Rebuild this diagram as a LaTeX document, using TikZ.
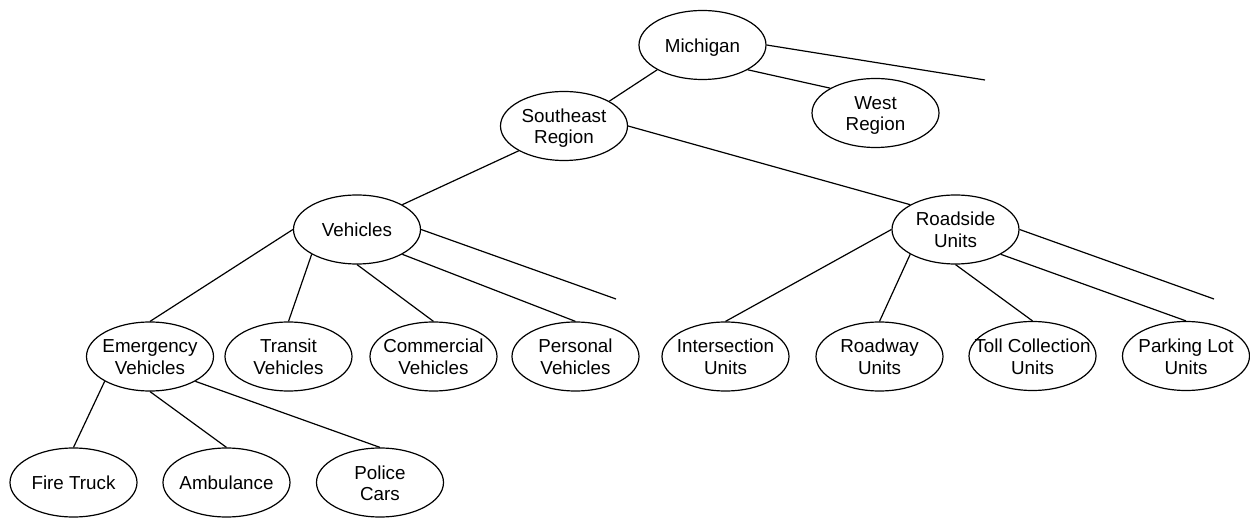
\documentclass[tikz,border=0pt]{standalone}
\usepackage{fontspec}
\setmainfont{Liberation Sans}
\usetikzlibrary{shapes.geometric}
\newcommand{\lblone}[1]{\raisebox{-7.2pt}[0pt][0pt]{\makebox[0pt][c]{#1}}}
\newcommand{\lbltwo}[2]{\raisebox{-18pt}[0pt][0pt]{\makebox[0pt][c]{\begin{tabular}[b]{@{}c@{}}#1\\#2\end{tabular}}}}
\tikzset{
  ell/.style={ellipse, draw=black, line width=1.2pt, inner sep=0pt,
    minimum width=127pt, minimum height=69pt,
    font=\fontsize{18.8}{21.5}\selectfont},
  link/.style={draw=black, line width=1.2pt}
}
\begin{document}
\begin{tikzpicture}[x=1pt,y=-1pt]
\useasboundingbox (0,0) rectangle (1250,518);
\node[ell] (michigan) at (702.5,45) {\lblone{Michigan}};
\node[ell] (west) at (875.5,113) {\lbltwo{West}{Region}};
\node[ell] (southeast) at (564,126) {\lbltwo{Southeast}{Region}};
\node[ell] (vehicles) at (357,229.5) {\lblone{Vehicles}};
\node[ell] (roadside) at (955.5,229.5) {\lbltwo{Roadside}{Units}};
\node[ell] (emergency) at (150,356.5) {\lbltwo{Emergency}{Vehicles}};
\node[ell] (transit) at (288.5,356.5) {\lbltwo{Transit}{Vehicles}};
\node[ell] (commercial) at (433.5,356.5) {\lbltwo{Commercial}{Vehicles}};
\node[ell] (personal) at (575.5,356.5) {\lbltwo{Personal}{Vehicles}};
\node[ell] (intersection) at (725.5,356.5) {\lbltwo{Intersection}{Units}};
\node[ell] (roadway) at (879.5,356.5) {\lbltwo{Roadway}{Units}};
\node[ell] (toll) at (1032.5,356) {\lbltwo{Toll Collection}{Units}};
\node[ell] (parking) at (1186,356) {\lbltwo{Parking Lot}{Units}};
\node[ell] (firetruck) at (73.5,482.5) {\lblone{Fire Truck}};
\node[ell] (ambulance) at (226.5,482.5) {\lblone{Ambulance}};
\node[ell] (police) at (380,482.5) {\lbltwo{Police}{Cars}};
\coordinate (free1) at (985,80);
\coordinate (free2) at (616,299);
\coordinate (free3) at (1214,299);
\draw[link] (michigan.south west) -- (southeast.north east);
\draw[link] (michigan.south east) -- (west.north west);
\draw[link] (michigan.east) -- (free1);
\draw[link] (southeast.south west) -- (vehicles.north east);
\draw[link] (southeast.east) -- (roadside.north west);
\draw[link] (vehicles.west) -- (emergency.north);
\draw[link] (vehicles.south west) -- (transit.north);
\draw[link] (vehicles.south) -- (commercial.north);
\draw[link] (vehicles.south east) -- (personal.north);
\draw[link] (vehicles.east) -- (free2);
\draw[link] (roadside.west) -- (intersection.north);
\draw[link] (roadside.south west) -- (roadway.north);
\draw[link] (roadside.south) -- (toll.north);
\draw[link] (roadside.south east) -- (parking.north);
\draw[link] (roadside.east) -- (free3);
\draw[link] (emergency.south west) -- (firetruck.north);
\draw[link] (emergency.south) -- (ambulance.north);
\draw[link] (emergency.south east) -- (police.north);
\end{tikzpicture}
\end{document}
